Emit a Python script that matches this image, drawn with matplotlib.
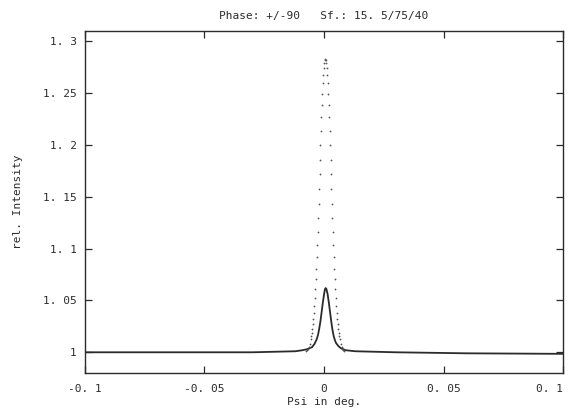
import matplotlib
matplotlib.use("Agg")
import matplotlib.pyplot as plt

# solid curve (Psi in deg., rel. intensity)
solid_x = [-0.1, -0.05, -0.03, -0.012, -0.009, -0.007, -0.006, -0.005, -0.004,
           -0.003, -0.0025, -0.002, -0.0015, -0.001, -0.0005, 0.0, 0.0004,
           0.0007, 0.001, 0.0015, 0.002, 0.0025, 0.003, 0.0035, 0.004, 0.0045,
           0.005, 0.006, 0.007, 0.009, 0.013, 0.03, 0.06, 0.1]
solid_y = [1.000, 1.000, 1.000, 1.001, 1.002, 1.003, 1.004, 1.005, 1.008,
           1.013, 1.017, 1.023, 1.030, 1.039, 1.048, 1.056, 1.061,
           1.062, 1.061, 1.056, 1.048, 1.039, 1.030, 1.022, 1.016, 1.012,
           1.009, 1.006, 1.004, 1.002, 1.001, 1.000, 0.999, 0.9985]

# dotted curve
dot_x = [-0.0075, -0.0071, -0.0067, -0.0063, -0.0059, -0.0055, -0.0053, -0.0051,
         -0.0049, -0.0047, -0.0045, -0.0043, -0.0041, -0.0039, -0.0037, -0.0035,
         -0.0033, -0.0031, -0.0029, -0.0027, -0.0025, -0.0023, -0.0021, -0.0019,
         -0.0017, -0.0015, -0.0013, -0.0011, -0.0009, -0.0007, -0.0005, -0.0003,
         -0.0001, 0.0001, 0.0003,
         0.0005,
         0.0007, 0.0009, 0.0011, 0.0013, 0.0015, 0.0017, 0.0019, 0.0021,
         0.0023, 0.0025, 0.0027, 0.0029, 0.0031, 0.0033, 0.0035, 0.0037,
         0.0039, 0.0041, 0.0043, 0.0045, 0.0047, 0.0049, 0.0051, 0.0053,
         0.0055, 0.0057, 0.0059, 0.0061, 0.0063, 0.0065, 0.0069, 0.0073,
         0.0077, 0.0081, 0.0085]
dot_y = [1.0011, 1.0019, 1.0031, 1.0051, 1.0081, 1.0124, 1.0153, 1.0186,
         1.0225, 1.0271, 1.0323, 1.0383, 1.0451, 1.0527, 1.0612, 1.0706,
         1.0808, 1.0919, 1.1037, 1.1163, 1.1296, 1.1433, 1.1574, 1.1716,
         1.1859, 1.2000, 1.2136, 1.2266, 1.2387, 1.2497, 1.2595, 1.2677,
         1.2743, 1.2791, 1.2820,
         1.2830,
         1.2820, 1.2791, 1.2743, 1.2677, 1.2595, 1.2497, 1.2387, 1.2266,
         1.2136, 1.2000, 1.1859, 1.1716, 1.1574, 1.1433, 1.1296, 1.1163,
         1.1037, 1.0919, 1.0808, 1.0706, 1.0612, 1.0527, 1.0451, 1.0383,
         1.0323, 1.0271, 1.0225, 1.0186, 1.0153, 1.0124, 1.0081, 1.0051,
         1.0031, 1.0019, 1.0011]

x_ticks = [-0.1, -0.05, 0.0, 0.05, 0.1]
x_labels = ["-0. 1", "-0. 05", "0", "0. 05", "0. 1"]
y_ticks = [1.0, 1.05, 1.1, 1.15, 1.2, 1.25, 1.3]
y_labels = ["1", "1. 05", "1. 1", "1. 15", "1. 2", "1. 25", "1. 3"]

ink = "#2b2b2b"
plt.rcParams["font.family"] = ["DejaVu Sans Mono"]

fig = plt.figure(figsize=(5.7, 4.09), dpi=100)
ax = fig.add_axes([0.149, 0.088, 0.839, 0.836])

ax.plot(solid_x, solid_y, color=ink, lw=1.3)
ax.plot(dot_x, dot_y, ls="none", marker="o", ms=1.3, mew=0, color="#555555")

ax.set_xlim(-0.1, 0.1)
ax.set_ylim(0.98, 1.31)
ax.set_xticks(x_ticks)
ax.set_xticklabels(x_labels)
ax.set_yticks(y_ticks)
ax.set_yticklabels(y_labels)
ax.tick_params(direction="in", length=5, width=0.9, color=ink, labelcolor=ink,
               labelsize=8, top=True, right=True)
ax.tick_params(axis="x", pad=8)
ax.tick_params(axis="y", pad=6)
# last x label sits at the right edge of the sheet
ax.get_xticklabels()[-1].set_horizontalalignment("right")
ax.get_xticklabels()[-1].set_x(0.1)
for s in ax.spines.values():
    s.set_color(ink)
    s.set_linewidth(1.0)

ax.set_title("Phase: +/-90   Sf.: 15. 5/75/40", fontsize=8, color=ink, pad=9)
ax.set_xlabel("Psi in deg.", fontsize=8, color=ink, labelpad=2)
ax.set_ylabel("rel. Intensity", fontsize=8, color=ink, labelpad=14)

fig.savefig("out.png", dpi=100)
